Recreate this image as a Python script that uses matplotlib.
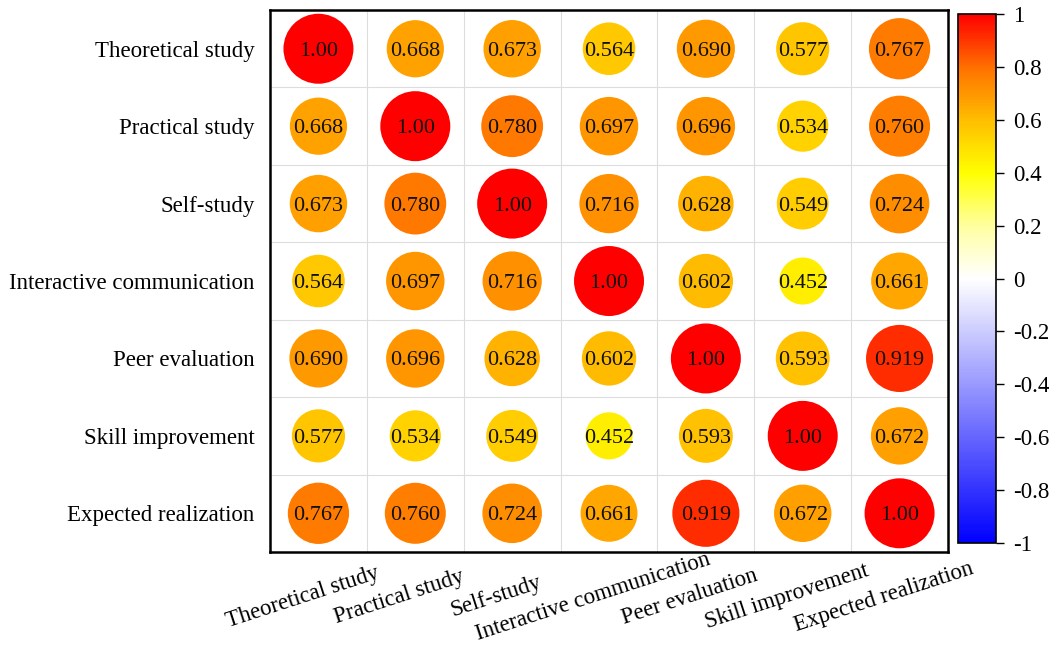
import numpy as np
import matplotlib
matplotlib.use("Agg")
import matplotlib.pyplot as plt
from matplotlib.colors import LinearSegmentedColormap, Normalize
from matplotlib.transforms import ScaledTranslation

plt.rcParams['font.family'] = ['Liberation Serif', 'DejaVu Serif']

labels = ["Theoretical study", "Practical study", "Self-study",
          "Interactive communication", "Peer evaluation",
          "Skill improvement", "Expected realization"]

corr = np.array([
    [1.000, 0.668, 0.673, 0.564, 0.690, 0.577, 0.767],
    [0.668, 1.000, 0.780, 0.697, 0.696, 0.534, 0.760],
    [0.673, 0.780, 1.000, 0.716, 0.628, 0.549, 0.724],
    [0.564, 0.697, 0.716, 1.000, 0.602, 0.452, 0.661],
    [0.690, 0.696, 0.628, 0.602, 1.000, 0.593, 0.919],
    [0.577, 0.534, 0.549, 0.452, 0.593, 1.000, 0.672],
    [0.767, 0.760, 0.724, 0.661, 0.919, 0.672, 1.000],
])

# blue -> white -> yellow -> orange -> red, over [-1, 1]
cmap = LinearSegmentedColormap.from_list("bwyr", [
    (0.0, "#0000FF"), (0.5, "#FFFFFF"), (0.6, "#FFFFA0"),
    (0.7, "#FFFF00"), (0.8, "#FFBE00"), (0.9, "#FF7000"), (1.0, "#FF0000")])
norm = Normalize(vmin=-1, vmax=1)

fig = plt.figure(figsize=(10.61, 6.47), dpi=100)
ax = fig.add_axes([0.2545, 0.1468, 0.639, 0.8377])
cax = fig.add_axes([0.9029, 0.1607, 0.0358, 0.8176])

n = len(labels)
xs, ys = np.meshgrid(np.arange(n), np.arange(n))
vals = corr.ravel()
ax.scatter(xs.ravel(), ys.ravel(), s=2540 * np.abs(vals), c=vals,
           cmap=cmap, norm=norm, linewidths=0, zorder=3)
for i in range(n):
    for j in range(n):
        v = corr[i, j]
        txt = "1.00" if v == 1 else f"{v:.3f}"
        ax.text(j, i, txt, ha='center', va='center_baseline', fontsize=16,
                color='#111111', zorder=4)

ax.set_xlim(-0.5, n - 0.5)
ax.set_ylim(n - 0.5, -0.5)
ax.set_xticks(np.arange(n - 1) + 0.5, minor=True)
ax.set_yticks(np.arange(n - 1) + 0.5, minor=True)
ax.grid(which='minor', color='#DDDDDD', linewidth=0.8)
ax.tick_params(which='both', length=0)
ax.set_xticks(range(n))
ax.set_yticks(range(n))
ax.set_yticklabels(labels, fontsize=16.5)
ax.tick_params(axis='y', pad=11)
# x labels: rotated, centred a little left of and below each column
ax.set_xticklabels(labels, fontsize=16.5, rotation=18, ha='center', va='center')
shift = ScaledTranslation(-16 / 100, -40 / 100, fig.dpi_scale_trans)
for lab in ax.get_xticklabels():
    lab.set_transform(lab.get_transform() + shift)
for sp in ax.spines.values():
    sp.set_linewidth(1.8)

sm = plt.cm.ScalarMappable(cmap=cmap, norm=norm)
cb = fig.colorbar(sm, cax=cax)
ticks = np.round(np.arange(-1, 1.01, 0.2), 1)
cb.set_ticks(ticks)
cb.set_ticklabels(["0" if t == 0 else "%g" % t for t in ticks])
cb.ax.tick_params(labelsize=16.5, length=6, width=1, pad=6)
cb.outline.set_linewidth(1.2)

fig.savefig("out.png", dpi=100)
